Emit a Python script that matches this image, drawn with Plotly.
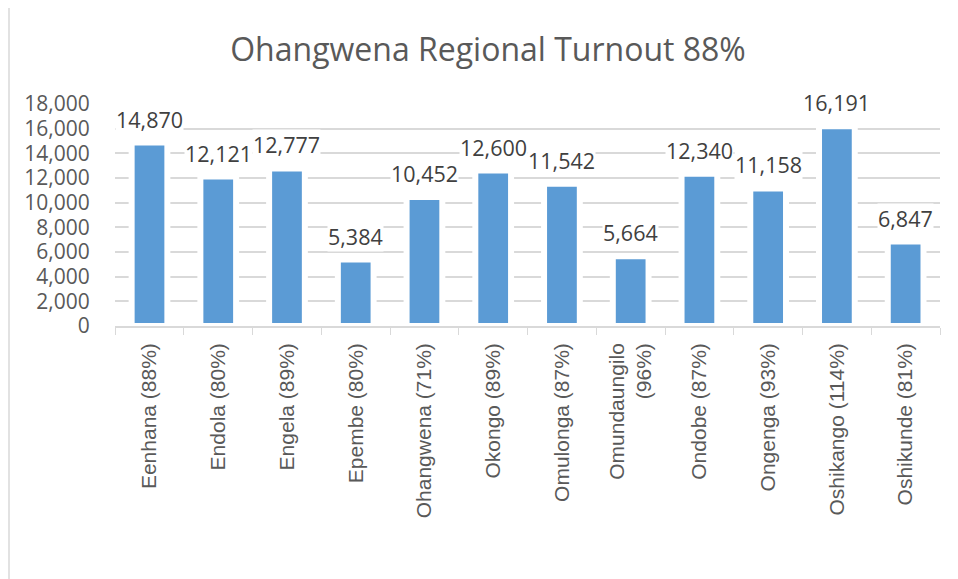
import plotly.graph_objects as go

categories = ["Eenhana (88%)", "Endola (80%)", "Engela (89%)", "Epembe (80%)",
              "Ohangwena (71%)", "Okongo (89%)", "Omulonga (87%)",
              "Omundaungilo<br>(96%)", "Ondobe (87%)", "Ongenga (93%)",
              "Oshikango (114%)", "Oshikunde (81%)"]
values = [14870, 12121, 12777, 5384, 10452, 12600, 11542, 5664, 12340, 11158, 16191, 6847]
ytick_vals = [0, 2000, 4000, 6000, 8000, 10000, 12000, 14000, 16000, 18000]
ytick_text = ["0", "2,000", "4,000", "6,000", "8,000", "10,000", "12,000", "14,000", "16,000", "18,000"]

W, H = 958, 579
OFF = 8  # page body margin
ml, mt = 115 - OFF, 104 - OFF
mr = W - (940 - OFF)
mb = H - (326 - OFF)
pw, ph = W - ml - mr, H - mt - mb

font = "Open Sans"
grey = "#595959"

fig = go.Figure()
fig.add_trace(go.Bar(
    x=categories, y=values,
    marker=dict(color="#5b9bd5", line=dict(color="white", width=6)),
    hoverinfo="x+y",
))

annotations = []
for c, v in zip(categories, values):
    annotations.append(dict(
        x=c, y=v, xref="x", yref="y", text=f"{v:,}", showarrow=False,
        yanchor="bottom", yshift=8, bgcolor="white", borderpad=0,
        font=dict(family=font, size=21.5, color="#404040"),
    ))

fig.update_layout(
    width=W, height=H,
    margin=dict(l=ml, r=mr, t=mt, b=mb, autoexpand=False),
    paper_bgcolor="white", plot_bgcolor="white",
    bargap=0.48,
    showlegend=False,
    title=dict(text="Ohangwena Regional Turnout 88%", x=(488 - OFF) / W, xanchor="center",
               xref="container", y=1 - (50 - OFF) / H, yanchor="middle", yref="container",
               font=dict(family=font, size=32, color=grey)),
    annotations=annotations,
    shapes=[dict(type="rect", xref="paper", yref="paper",
                 x0=(9 - OFF - ml) / pw, x1=(966 - OFF - ml) / pw,
                 y0=(H - 590 - mb) / ph, y1=(H - (5 - OFF) - mb) / ph,
                 line=dict(color="#d9d9d9", width=1.5), layer="below")],
    xaxis=dict(
        type="category", tickangle=-90,
        showline=True, linecolor="#d9d9d9", linewidth=1.5,
        ticks="outside", tickson="boundaries", ticklen=7, tickcolor="#d9d9d9",
        ticklabelstandoff=7,
        tickfont=dict(family="Liberation Sans", size=21, color=grey),
        showgrid=False,
    ),
    yaxis=dict(
        range=[0, 18000], tickvals=ytick_vals, ticktext=ytick_text,
        showgrid=True, gridcolor="#d9d9d9", gridwidth=1.5,
        zeroline=False, showline=False,
        ticks="outside", ticklen=20, tickcolor="rgba(0,0,0,0)",
        tickfont=dict(family=font, size=21, color=grey),
    ),
)

fig.write_html("out.html")
